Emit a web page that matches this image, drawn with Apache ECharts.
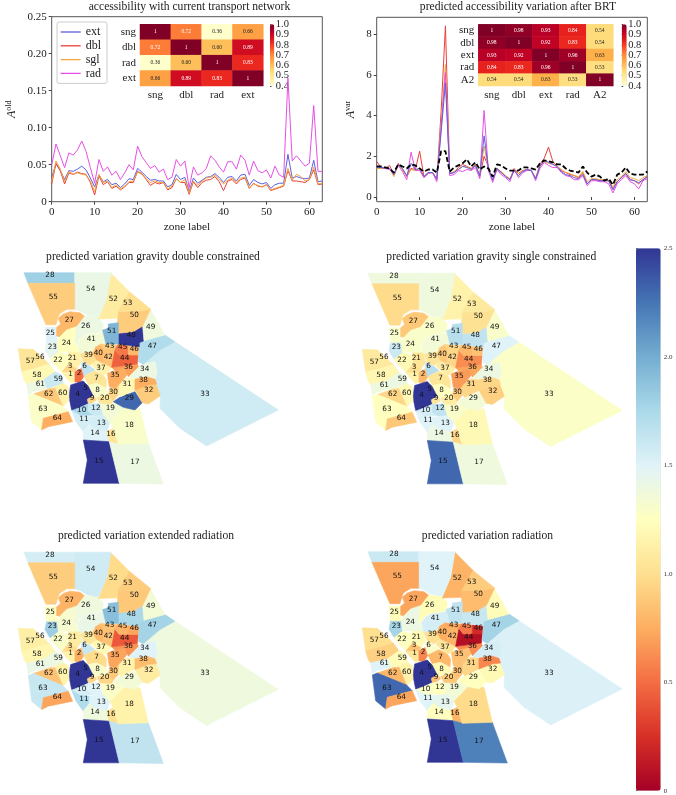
<!DOCTYPE html>
<html><head><meta charset="utf-8">
<style>html,body{margin:0;padding:0;background:#fff}#c{width:676px;height:795px}</style>
<script src="https://cdn.jsdelivr.net/npm/echarts@6/dist/echarts.min.js"></script>
</head><body><div id="c"></div>
<script>
const xTicks=[0,10,20,30,40,50,60];
const cbTicksEven=[.4,.6,.8,1];
const cbTicksOdd=[.5,.7,.9];
const zones=Array.from({length:64},(_,i)=>i);
const oldExt=[.033,.051,.042,.030,.042,.041,.044,.048,.043,.032,.020,.036,.027,.030,.023,.025,.019,.024,.031,.030,.045,.040,.034,.029,.030,.028,.028,.020,.023,.037,.030,.033,.014,.032,.025,.029,.033,.034,.038,.033,.026,.033,.034,.028,.036,.037,.022,.030,.026,.024,.026,.018,.023,.025,.025,.064,.032,.034,.032,.031,.032,.056,.027,.028];
const oldDbl=[.024,.052,.042,.024,.039,.037,.040,.038,.037,.026,.009,.035,.023,.027,.018,.021,.016,.020,.026,.026,.041,.038,.030,.022,.026,.024,.026,.016,.019,.031,.026,.026,.010,.027,.019,.026,.029,.030,.034,.027,.015,.028,.030,.024,.030,.032,.018,.025,.021,.020,.023,.015,.017,.019,.021,.042,.028,.028,.027,.026,.030,.043,.023,.024];
const oldSgl=[.027,.055,.044,.027,.041,.037,.039,.037,.036,.028,.014,.037,.026,.028,.019,.023,.017,.021,.027,.028,.040,.037,.031,.026,.028,.026,.026,.017,.021,.031,.026,.030,.012,.028,.022,.028,.032,.033,.036,.030,.024,.029,.032,.026,.032,.033,.019,.024,.022,.020,.023,.016,.018,.020,.022,.045,.029,.037,.034,.028,.030,.047,.024,.025];
const oldRad=[.050,.078,.062,.046,.066,.063,.070,.082,.068,.046,.025,.057,.041,.047,.036,.041,.030,.039,.050,.043,.075,.061,.053,.045,.049,.040,.044,.030,.033,.057,.048,.055,.019,.047,.036,.039,.045,.062,.056,.047,.040,.054,.054,.044,.063,.056,.036,.055,.042,.039,.043,.032,.048,.036,.033,.167,.055,.062,.055,.048,.052,.130,.041,.041];
const varExt=[1.45,1.45,1.42,1.4,1.1,1.6,1.4,1.05,1.65,1.35,1.4,1.0,1.2,1.2,.9,3.2,5.6,1.15,1.2,1.35,1.5,1.45,1.35,1.55,1.05,3.0,1.4,.85,1.4,1.2,1.0,.85,1.3,1.05,1.25,1.35,1.3,.9,1.5,1.8,1.7,1.6,1.5,1.25,1.1,1.05,.95,.9,1.1,.65,.85,.85,.8,.8,.8,.35,.75,.95,1.15,.85,.8,.7,.85,1.0];
const varDbl=[1.75,1.45,1.4,1.55,1.1,1.65,1.35,1.0,1.4,1.35,2.25,1.0,1.2,1.2,.85,4.2,8.4,1.15,1.2,1.45,1.6,1.5,1.4,1.6,1.0,2.0,1.5,.8,1.4,1.2,1.05,.85,1.4,1.15,1.3,1.35,1.3,.9,1.6,1.9,2.45,1.75,1.5,1.3,1.2,1.1,1.05,.95,1.2,.65,.85,.85,.8,.8,.8,.4,.75,.95,1.15,.85,.8,.65,.85,1.0];
const varSgl=[1.4,1.4,1.4,1.4,1.0,1.55,1.35,1.0,1.35,1.3,1.4,1.0,1.2,1.2,.9,3.6,6.5,1.15,1.25,1.35,1.5,1.5,1.35,1.55,1.05,2.5,1.4,.85,1.4,1.25,1.05,.9,1.3,1.15,1.25,1.35,1.3,.95,1.5,1.75,1.65,1.6,1.5,1.35,1.2,1.15,1.05,1.0,1.25,.75,.9,.9,.85,.85,.8,.5,.85,1.0,1.25,.95,.9,.8,.95,1.05];
const varRad=[1.5,1.45,1.4,1.35,1.15,1.55,1.25,.85,2.2,1.3,1.3,.95,1.15,1.2,.75,3.4,6.1,1.05,1.1,1.3,1.25,1.35,1.3,1.45,.9,4.25,1.3,.72,1.35,1.1,.95,.75,1.35,.95,1.2,1.3,1.3,.8,1.4,1.7,1.55,1.45,1.45,1.2,1.05,1.0,.85,.85,1.05,.55,.8,.8,.75,.75,.65,.2,.65,.85,1.05,.75,.65,.4,.8,.9];
const varA2=[1.5,1.5,1.45,1.4,1.2,1.6,1.5,1.4,1.6,1.55,1.4,1.25,1.35,1.35,1.2,2.25,2.25,1.25,1.45,1.55,1.65,1.85,1.5,1.7,1.35,1.5,1.4,1.0,1.6,1.55,1.4,1.3,1.3,1.3,1.45,1.45,1.4,1.35,1.65,1.8,1.75,1.7,1.6,1.6,1.4,1.3,1.25,1.2,1.5,1.2,1.0,1.1,1.0,.8,.9,.6,1.1,1.2,1.45,1.15,1.1,1.1,1.1,1.25];
const hmLeftNames=['sng','dbl','rad','ext'];
const hmLeftValues=[[1,.72,.36,.66],[.72,1,.60,.89],[.36,.60,1,.83],[.66,.89,.83,1]];
const hmRightNames=['sng','dbl','ext','rad','A2'];
const hmRightValues=[[1,.98,.93,.84,.54],[.98,1,.92,.83,.54],[.93,.92,1,.96,.63],[.84,.83,.96,1,.53],[.54,.54,.63,.53,1]];
const mapDouble=[1.15,.5,.95,2.5,2.5,1.65,1.05,1.3,.95,1.75,1.55,1.6,1.55,1.5,2.5,1.05,1.4,1.3,1.35,1.05,1.15,1.25,1.45,1.25,1.5,1.4,.8,1.8,2.3,.95,1.2,.9,1.58,1.4,.75,.7,1.15,.75,1.0,.8,1.35,.85,.9,.45,.55,.8,1.72,2.5,1.38,.9,1.95,1.1,1.0,1.42,.9,1.05,1.05,1.2,1.6,1.15,1.4,.88,1.28,.75];
const mapSingle=[1.15,.8,1.0,2.5,2.5,1.7,1.05,1.25,1.05,1.55,1.5,1.65,1.5,1.4,2.3,.95,1.38,1.2,1.3,1.1,1.05,1.2,1.6,1.3,1.3,1.3,.88,1.38,1.35,.9,.95,.92,1.28,1.4,.68,.72,1.1,.95,1.05,.88,1.35,.95,.95,.62,.8,.85,1.5,1.65,1.3,1.02,1.7,1.15,1.08,1.38,.98,1.08,1.08,1.18,1.4,1.2,1.38,.95,1.25,.88];
const mapExtended=[1.15,.75,.98,2.5,2.5,1.62,.98,1.3,.95,1.55,1.72,1.5,1.5,1.38,2.5,1.0,1.65,1.15,1.28,.95,1.1,1.3,1.82,1.32,1.27,1.38,.78,1.55,1.35,.88,1.15,1.1,1.38,1.5,.72,.65,1.2,.82,1.05,.8,1.42,.85,.85,.42,.78,.72,1.78,1.75,1.35,.88,1.9,.98,.9,1.58,.9,1.12,1.12,1.18,1.4,1.15,1.42,.85,1.62,.72];
const mapRadiation=[1.05,.6,.85,2.5,2.5,1.3,.8,1.2,.85,1.3,1.5,1.25,1.45,1.25,2.5,.78,2.2,.98,1.35,.88,1.2,1.25,1.78,1.4,1.22,1.22,.72,1.6,1.25,.85,.95,1.2,1.52,1.55,.85,.62,1.05,.6,1.0,.75,1.55,.78,.72,.08,.55,.22,1.78,1.62,1.22,.82,1.65,.78,.9,1.5,.72,1.0,1.0,.92,1.22,1.15,1.5,.8,2.3,.72];
const rdylbu=['#a50026','#d73027','#f46d43','#fdae61','#fee090','#ffffbf','#e0f3f8','#abd9e9','#74add1','#4575b4','#313695'];
const ylorrd=['#ffffcc','#ffeda0','#fed976','#feb24c','#fd8d3c','#fc4e2a','#e31a1c','#bd0026','#800026'];
const zoneShapes={
1:[[185,395],[225,395],[225,425],[215,430],[200,415]],
2:[[225,395],[245,385],[252,408],[240,428],[225,425]],
3:[[185,395],[205,370],[232,385],[225,395],[200,395]],
4:[[212,435],[250,423],[265,440],[280,465],[262,480],[265,490],[250,497],[245,513],[215,510],[207,470]],
5:[[248,425],[268,440],[278,462],[258,460],[245,440]],
6:[[245,365],[270,378],[285,390],[252,408],[245,385]],
7:[[252,408],[285,392],[310,405],[320,420],[318,445],[290,430],[265,435]],
8:[[265,435],[290,430],[318,445],[325,465],[300,470],[280,465]],
9:[[262,478],[282,467],[290,480],[275,490],[265,490]],
10:[[245,500],[265,492],[265,515],[285,525],[240,527],[215,512]],
11:[[215,512],[240,527],[270,530],[268,552],[250,575],[228,545]],
12:[[265,492],[300,490],[310,525],[290,530],[265,515]],
13:[[270,530],[310,525],[330,545],[320,575],[280,565],[268,552]],
14:[[250,575],[268,552],[280,565],[320,575],[328,605],[250,600]],
15:[[250,600],[328,605],[358,730],[250,730],[262,660]],
16:[[320,575],[340,565],[355,613],[328,605]],
17:[[328,605],[355,613],[445,610],[490,732],[358,730]],
18:[[370,505],[420,505],[445,610],[355,613],[340,565],[330,545]],
19:[[300,490],[335,492],[350,490],[370,505],[330,545],[310,525]],
20:[[290,472],[325,465],[340,482],[335,492],[300,490]],
21:[[205,335],[238,335],[240,345],[245,365],[232,385],[205,370]],
22:[[150,355],[172,335],[205,345],[205,370],[185,395],[165,375]],
23:[[140,305],[172,305],[175,335],[150,355],[135,330]],
24:[[172,305],[178,290],[200,268],[230,258],[225,300],[228,315],[238,335],[205,335],[175,335]],
25:[[135,262],[168,262],[170,290],[172,305],[140,305]],
26:[[253,228],[292,232],[310,250],[308,270],[295,278],[260,283],[240,295],[228,315],[225,300],[230,258]],
27:[[170,262],[182,252],[175,235],[190,222],[210,215],[240,218],[253,228],[230,258],[200,268],[178,290],[170,288]],
28:[[72,98],[224,98],[224,130],[84,130]],
29:[[340,485],[362,470],[405,455],[427,488],[405,510],[370,502]],
30:[[328,448],[345,430],[358,432],[355,465],[340,482],[325,465]],
31:[[360,430],[380,415],[405,418],[405,450],[362,470],[355,460]],
32:[[405,450],[445,435],[470,432],[485,465],[470,475],[445,492],[427,488]],
33:[[525,305],[835,510],[620,618],[540,565],[480,505],[482,465],[465,420],[472,395],[465,365],[430,373],[480,330]],
34:[[385,410],[400,395],[415,380],[430,373],[465,365],[472,395],[465,418],[440,410],[405,418]],
35:[[322,400],[345,392],[375,385],[385,400],[365,425],[345,445],[328,440]],
36:[[335,382],[412,372],[415,380],[400,395],[385,410],[375,385],[345,392]],
37:[[275,375],[290,360],[310,372],[335,382],[322,400],[310,405],[290,390]],
38:[[405,418],[440,410],[465,418],[470,432],[445,435],[405,450]],
39:[[240,340],[280,332],[280,342],[290,360],[270,375],[250,365]],
40:[[285,320],[300,312],[312,325],[310,370],[290,360],[280,342]],
41:[[232,312],[245,295],[262,285],[300,280],[310,270],[318,312],[300,312],[285,320],[280,332],[240,340]],
42:[[312,325],[345,328],[345,350],[335,382],[310,370]],
43:[[300,312],[355,315],[345,328],[312,325]],
44:[[345,330],[358,345],[415,345],[412,372],[335,382]],
45:[[355,312],[385,318],[385,345],[358,345],[345,328]],
46:[[385,318],[418,320],[415,345],[385,345]],
47:[[495,285],[525,305],[480,330],[430,373],[415,365],[418,320],[418,308],[432,302]],
48:[[355,280],[400,275],[428,258],[432,302],[418,308],[418,320],[355,312]],
49:[[452,210],[495,285],[432,302],[428,258]],
50:[[353,215],[420,212],[452,207],[428,258],[400,275],[355,280],[353,250]],
51:[[325,252],[355,248],[355,312],[318,312],[308,270],[325,265]],
52:[[333,100],[388,155],[353,215],[353,235],[295,237],[320,175]],
53:[[388,155],[452,207],[420,212],[353,215]],
54:[[224,98],[333,98],[333,100],[320,175],[295,232],[260,225],[240,212],[224,208]],
55:[[84,130],[224,130],[224,208],[200,208],[178,222],[172,240],[168,254],[138,254],[112,195]],
56:[[88,328],[100,328],[148,372],[108,385]],
57:[[55,326],[88,328],[108,385],[65,395]],
58:[[65,395],[108,385],[148,372],[165,395],[130,420],[80,432],[72,420]],
59:[[130,420],[165,395],[185,405],[190,430],[160,440],[140,445]],
60:[[160,442],[190,430],[205,440],[207,480],[190,500]],
61:[[80,432],[130,420],[140,445],[98,455],[85,465]],
62:[[100,462],[150,445],[165,445],[188,498]],
63:[[85,468],[100,462],[188,498],[205,515],[130,535],[125,570],[95,545]],
64:[[130,535],[205,515],[218,545],[145,560],[125,570]]};
const zoneLabels={1:[212,401],2:[237,400],3:[210,379],4:[233,463],5:[257,445],6:[254,378],7:[290,414],8:[293,450],9:[276,473],10:[245,509],11:[252,538],12:[288,504],13:[304,549],14:[285,578],15:[297,663],16:[333,583],17:[405,665],18:[388,555],19:[331,505],20:[314,474],21:[217,354],22:[174,359],23:[157,320],24:[199,310],25:[151,278],26:[257,258],27:[208,241],28:[150,106],29:[388,474],30:[340,455],31:[381,431],32:[446,451],33:[615,462],34:[434,386],35:[345,406],36:[385,380],37:[303,384],38:[430,420],39:[265,346],40:[295,340],41:[274,297],42:[325,350],43:[329,317],44:[374,355],45:[368,321],46:[403,326],47:[457,317],48:[394,285],49:[452,260],50:[403,226],51:[335,273],52:[340,176],53:[383,190],54:[272,148],55:[160,172],56:[120,351],57:[91,364],58:[111,405],59:[175,416],60:[188,459],61:[121,433],62:[146,461],63:[129,506],64:[172,534]};

const SERIF='"Liberation Serif",serif';
const geo={type:'FeatureCollection',features:Object.keys(zoneShapes).map(k=>{
  const ring=zoneShapes[k].concat([zoneShapes[k][0]]);
  return {type:'Feature',properties:{name:k,cp:zoneLabels[k]},geometry:{type:'Polygon',coordinates:[ring]}};
})};
['zonesA','zonesB','zonesC','zonesD'].forEach(n=>echarts.registerMap(n,geo));
function hex(c){return [1,3,5].map(i=>parseInt(c.substr(i,2),16));}
function cmap(v){const t=Math.min(.9999,Math.max(0,v/2.5))*(rdylbu.length-1),i=Math.floor(t),f=t-i,a=hex(rdylbu[i]),b=hex(rdylbu[i+1]);
  return 'rgb('+a.map((x,j)=>Math.round(x+(b[j]-x)*f)).join(',')+')';}

const lineColors={ext:'#5c5fe0',dbl:'#e8403a',sgl:'#f2a540',rad:'#e64fe6'};
function line(name,data,g,extra){return Object.assign({type:'line',name,data:data.map((v,i)=>[zones[i],v]),xAxisIndex:g,yAxisIndex:g,symbol:'none',lineStyle:{width:1,color:lineColors[name]},itemStyle:{color:lineColors[name]},silent:true},extra||{});}
function heat(names,values,g){const d=[];values.forEach((r,y)=>r.forEach((v,x)=>d.push({value:[x,y,v],label:{color:v>=.7?'#fff':'#222'}})));
  return {type:'heatmap',data:d,xAxisIndex:g,yAxisIndex:g,silent:true,label:{show:true,fontSize:5.5,fontFamily:SERIF,formatter:p=>p.value[2]===1?'1':p.value[2].toFixed(2)}};}
function mapS(map,vals,l,t){return {type:'map',map,projection:{project:p=>p,unproject:p=>p},left:l,top:t,width:260,height:211.3,roam:false,silent:true,selectedMode:false,showLegendSymbol:false,
  label:{show:true,formatter:'{b}',fontSize:7.3,fontFamily:'"DejaVu Sans"',color:'#111'},
  itemStyle:{borderWidth:0},
  data:vals.map((v,i)=>({name:String(i+1),value:v,itemStyle:{borderColor:cmap(v),borderWidth:.6}}))};}
function title(text,x,y){return {text,left:x,top:y,textAlign:'center',textVerticalAlign:'middle',padding:0,textStyle:{fontFamily:SERIF,fontSize:11.6,fontWeight:'normal',color:'#222'}};}
const axisTxt={fontFamily:SERIF,fontSize:11,color:'#222'};
const nameTxt={fontFamily:SERIF,fontSize:11.4,color:'#222'};
function xA(g){return {type:'value',gridIndex:g,min:0,max:63,name:'zone label',nameLocation:'middle',nameGap:20,nameTextStyle:nameTxt,splitLine:{show:false},axisLine:{show:false},
  axisTick:{length:3,lineStyle:{color:'#444'},customValues:xTicks},axisLabel:Object.assign({margin:5,customValues:xTicks},axisTxt)};}
function hmAxis(kind,names,g){const o={type:'category',gridIndex:g,data:names,axisLine:{show:false},axisTick:{length:2,alignWithLabel:true,lineStyle:{color:'#444'}},splitLine:{show:false},axisLabel:Object.assign({},axisTxt,{fontSize:11,margin:4,interval:0})};if(kind==='y')o.inverse=true;return o;}
function cbX(g){return {type:'value',gridIndex:g,min:0,max:1,show:false};}
function cbY(g,ticks){return {type:'value',gridIndex:g,position:'right',min:.4,max:1,splitLine:{show:false},axisLine:{show:false},axisTick:{show:true,length:1.5,lineStyle:{color:'#444'},customValues:ticks},axisLabel:Object.assign({},axisTxt,{fontSize:10.5,margin:1.5,customValues:ticks,formatter:v=>v.toFixed(1)})};}
const option={animation:false,backgroundColor:'#fff',
 title:[title('accessibility with current transport network',189.5,6.5),title('predicted accessibility variation after BRT',518,6.5),
  title('predicted variation gravity double constrained',153,256.7),title('predicted variation gravity single constrained',491.3,256.7),
  title('predicted variation extended radiation',146,536),title('predicted variation radiation',487.5,536)],
 legend:{data:['ext','dbl','sgl','rad'],icon:'rect',orient:'vertical',left:57,top:22,padding:[4,6,4,3.7],itemWidth:20,itemHeight:1.3,itemGap:1.8,backgroundColor:'#fff',borderColor:'#ccc',borderWidth:1,borderRadius:2,selectedMode:false,textStyle:{fontFamily:SERIF,fontSize:12,color:'#222'},z:6},
 grid:[
  {left:51.7,top:16.7,width:270.6,height:185,show:true,borderColor:'#555',borderWidth:1,backgroundColor:'transparent'},
  {left:376.7,top:17.3,width:270.6,height:184.4,show:true,borderColor:'#555',borderWidth:1,backgroundColor:'transparent'},
  {left:140,top:24.3,width:123.3,height:61.7},
  {left:478.3,top:24.3,width:135,height:61.7},
  {left:270,top:24.3,width:4.3,height:61.7},
  {left:621.7,top:24.3,width:5,height:61.7},
  {left:636,top:248.3,width:24.7,height:542.4},
  {left:270,top:24.3,width:4.3,height:61.7},
  {left:621.7,top:24.3,width:5,height:61.7}],
 xAxis:[xA(0),xA(1),hmAxis('x',hmLeftNames,2),hmAxis('x',hmRightNames,3),cbX(4),cbX(5),cbX(6),cbX(7),cbX(8)],
 yAxis:[
  {type:'value',gridIndex:0,min:0,max:.25,interval:.05,splitLine:{show:false},axisLine:{show:false},axisTick:{length:3,lineStyle:{color:'#444'}},
   axisLabel:Object.assign({margin:5,formatter:v=>v===0?'0':v.toFixed(2)},axisTxt),
   name:'{i|A}{s|old}',nameLocation:'middle',nameGap:33,nameRotate:90,nameTextStyle:{rich:{i:{fontFamily:SERIF,fontStyle:'italic',fontSize:12,color:'#222'},s:{fontFamily:SERIF,fontSize:8,color:'#222',verticalAlign:'top',lineHeight:14}}}},
  {type:'value',gridIndex:1,min:-.23,max:8.82,splitLine:{show:false},axisLine:{show:false},axisTick:{length:3,lineStyle:{color:'#444'},customValues:[0,2,4,6,8]},
   axisLabel:Object.assign({margin:5,customValues:[0,2,4,6,8]},axisTxt),
   name:'{i|A}{s|var}',nameLocation:'middle',nameGap:19,nameRotate:90,nameTextStyle:{rich:{i:{fontFamily:SERIF,fontStyle:'italic',fontSize:12,color:'#222'},s:{fontFamily:SERIF,fontSize:8,color:'#222',verticalAlign:'top',lineHeight:14}}}},
  hmAxis('y',hmLeftNames,2),hmAxis('y',hmRightNames,3),cbY(4,cbTicksEven),cbY(5,cbTicksEven),
  {type:'value',gridIndex:6,position:'right',min:0,max:2.5,interval:.5,splitLine:{show:false},axisLine:{show:true,lineStyle:{color:'#999',width:1}},axisTick:{length:2,lineStyle:{color:'#666'}},axisLabel:{fontFamily:SERIF,fontSize:7,color:'#333',margin:3,formatter:v=>v===0?'0':v.toFixed(1)}},
  cbY(7,cbTicksOdd),cbY(8,cbTicksOdd)],
 visualMap:[
  {type:'continuous',seriesIndex:[9],dimension:2,min:.4,max:1,left:270,top:24.3,itemWidth:4.3,itemHeight:61.7,padding:0,calculable:false,inRange:{color:ylorrd},z:3,hoverLink:false},
  {type:'continuous',seriesIndex:[10],dimension:2,min:.4,max:1,left:621.7,top:24.3,itemWidth:5,itemHeight:61.7,padding:0,calculable:false,inRange:{color:ylorrd},z:3,hoverLink:false},
  {type:'continuous',seriesIndex:[11,12,13,14],min:0,max:2.5,left:636,top:248.3,itemWidth:24.7,itemHeight:542.4,padding:0,calculable:false,inRange:{color:rdylbu},hoverLink:false,z:1}],
 series:[
  line('ext',oldExt,0),line('dbl',oldDbl,0),line('sgl',oldSgl,0),line('rad',oldRad,0),
  line('dbl',varDbl,1),line('sgl',varSgl,1),line('rad',varRad,1),line('ext',varExt,1),
  line('A2',varA2,1,{lineStyle:{width:1.8,color:'#000',type:[5,2.5]},itemStyle:{color:'#000'}}),
  heat(hmLeftNames,hmLeftValues,2),heat(hmRightNames,hmRightValues,3),
  mapS('zonesA',mapDouble,18.3,272.7),mapS('zonesB',mapSingle,362.3,273.2),mapS('zonesC',mapExtended,18.3,552.2),mapS('zonesD',mapRadiation,362.3,551.7)]
};
echarts.init(document.getElementById('c'),null,{renderer:'canvas'}).setOption(option);
</script></body></html>
